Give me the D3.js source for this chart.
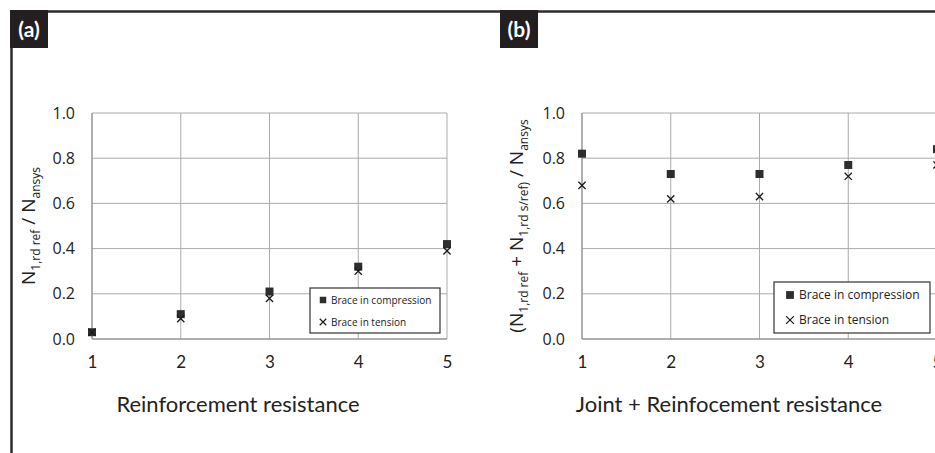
<!DOCTYPE html>
<html><head><meta charset="utf-8">
<script src="https://cdn.jsdelivr.net/npm/d3@7"></script>
<style>
html,body{margin:0;padding:0;background:#fff;}
svg{display:block;}
</style></head>
<body>
<svg id="chart" width="935" height="453"></svg>
<script>
// ---- data ----
const xCategories = [1, 2, 3, 4, 5];
const yTicks = [0, 0.2, 0.4, 0.6, 0.8, 1.0];
const seriesNames = ["Brace in compression", "Brace in tension"];
const panelLabels = ["(a)", "(b)"];
const xTitles = ["Reinforcement resistance", "Joint + Reinfocement resistance"];
const aCompression = [0.03, 0.11, 0.21, 0.32, 0.42];
const aTension = [0.03, 0.09, 0.18, 0.30, 0.39];
const bCompression = [0.82, 0.73, 0.73, 0.77, 0.84];
const bTension = [0.68, 0.62, 0.63, 0.72, 0.77];

const svg = d3.select("#chart");
const dark = "#231f20";

// frame lines
svg.append("line").attr("x1", 10).attr("x2", 935).attr("y1", 11.5).attr("y2", 11.5)
  .attr("stroke", "#2b2b2b").attr("stroke-width", 2.5);
svg.append("line").attr("x1", 11.5).attr("x2", 11.5).attr("y1", 10).attr("y2", 453)
  .attr("stroke", "#2b2b2b").attr("stroke-width", 2.5);

const panels = [
  {label: panelLabels[0], lx: 10, x0: 92, comp: aCompression, ten: aTension, title: xTitles[0], tx: 238,
   ytitle: [["N", 0], ["1,rd ref", 1], [" / N", 0], ["ansys", 1]], ytx: 35,
   legend: {x: 310, y: 288, w: 130, h: 45, fs: 10, r1: 300, r2: 322, mx: 323, tx: 331}},
  {label: panelLabels[1], lx: 500, x0: 582, comp: bCompression, ten: bTension, title: xTitles[1], tx: 729,
   ytitle: [["(N", 0], ["1,rd ref", 1], [" + N", 0], ["1,rd s/ref)", 1], [" / N", 0], ["ansys", 1]], ytx: 523,
   legend: {x: 774, y: 282, w: 156, h: 51, fs: 12, r1: 295, r2: 320, mx: 790, tx: 799}}
];

panels.forEach(p => {
  const x = d3.scaleLinear().domain([1, 5]).range([p.x0, p.x0 + 355]);
  const y = d3.scaleLinear().domain([0, 1]).range([339, 113]);
  const g = svg.append("g");

  // label box
  g.append("rect").attr("x", p.lx).attr("y", 10).attr("width", 38).attr("height", 38).attr("fill", dark);
  g.append("text").attr("x", p.lx + 19).attr("y", 37).attr("text-anchor", "middle")
    .attr("fill", "#fff").attr("font-family", "Lato, 'Open Sans', sans-serif").attr("font-weight", "bold")
    .attr("font-size", 21).text(p.label);

  // grid
  g.append("g").selectAll("line").data(yTicks).join("line")
    .attr("x1", x(1)).attr("x2", x(5)).attr("y1", d => y(d)).attr("y2", d => y(d))
    .attr("stroke", "#ababab").attr("stroke-width", 1);
  g.append("g").selectAll("line").data(xCategories).join("line")
    .attr("x1", d => x(d)).attr("x2", d => x(d)).attr("y1", y(0)).attr("y2", y(1))
    .attr("stroke", "#ababab").attr("stroke-width", 1);
  // axis lines
  g.append("line").attr("x1", x(1)).attr("x2", x(1)).attr("y1", y(0)).attr("y2", y(1)).attr("stroke", "#8a8a8a");
  g.append("line").attr("x1", x(1)).attr("x2", x(5)).attr("y1", y(0)).attr("y2", y(0)).attr("stroke", "#8a8a8a");

  // y axis
  const ya = g.append("g").attr("transform", `translate(${x(1)},0)`)
    .call(d3.axisLeft(y).tickValues(yTicks).tickFormat(d3.format(".1f")).tickSize(0).tickPadding(17));
  ya.select(".domain").remove();
  ya.selectAll("text").attr("font-family", "'Open Sans', 'Noto Sans', sans-serif").attr("font-size", 16).attr("fill", "#222");

  // x axis
  const xa = g.append("g").attr("transform", `translate(0,${y(0)})`)
    .call(d3.axisBottom(x).tickValues(xCategories).tickFormat(d3.format("d")).tickSize(0).tickPadding(17));
  xa.select(".domain").remove();
  xa.selectAll("text").attr("font-family", "Lato, sans-serif").attr("font-size", 17).attr("fill", "#222");

  // x title
  g.append("text").attr("x", p.tx).attr("y", 412).attr("text-anchor", "middle")
    .attr("font-family", "Lato, sans-serif").attr("font-size", 22).attr("fill", "#222").text(p.title);

  // y title
  const yt = g.append("text").attr("transform", `translate(${p.ytx},226) rotate(-90)`)
    .attr("text-anchor", "middle").attr("font-family", "'Open Sans', 'Noto Sans', sans-serif").attr("fill", "#222");
  p.ytitle.forEach(([t, sub], i) => {
    const ts = yt.append("tspan").text(t).attr("font-size", sub ? 12 : 19);
    const prevSub = i > 0 ? p.ytitle[i - 1][1] : 0;
    if (sub && !prevSub) ts.attr("dy", 5);
    else if (!sub && prevSub) ts.attr("dy", -5);
  });

  // markers
  const sq = 8, xs = 3.6;
  g.append("g").selectAll("rect").data(xCategories).join("rect")
    .attr("x", (d, i) => x(d) - sq / 2).attr("y", (d, i) => y(p.comp[i]) - sq / 2)
    .attr("width", sq).attr("height", sq).attr("fill", "#2d2d2d");
  g.append("g").selectAll("path").data(xCategories).join("path")
    .attr("d", (d, i) => {
      const cx = x(d), cy = y(p.ten[i]);
      return `M${cx - xs},${cy - xs}L${cx + xs},${cy + xs}M${cx - xs},${cy + xs}L${cx + xs},${cy - xs}`;
    })
    .attr("stroke", "#1a1a1a").attr("stroke-width", 1.3).attr("fill", "none");

  // legend
  const L = p.legend;
  g.append("rect").attr("x", L.x).attr("y", L.y).attr("width", L.w).attr("height", L.h)
    .attr("fill", "#fff").attr("stroke", "#333").attr("stroke-width", 1.2);
  const ms = L.fs * 0.65;
  g.append("rect").attr("x", L.mx - ms / 2).attr("y", L.r1 - ms / 2).attr("width", ms).attr("height", ms).attr("fill", "#2d2d2d");
  const lx = ms / 2;
  g.append("path").attr("d", `M${L.mx - lx},${L.r2 - lx}L${L.mx + lx},${L.r2 + lx}M${L.mx - lx},${L.r2 + lx}L${L.mx + lx},${L.r2 - lx}`)
    .attr("stroke", "#1a1a1a").attr("stroke-width", 1.2);
  [seriesNames[0], seriesNames[1]].forEach((n, i) => {
    g.append("text").attr("x", L.tx).attr("y", i ? L.r2 : L.r1).attr("dy", "0.35em")
      .attr("font-family", "'Open Sans', 'Noto Sans', sans-serif").attr("font-size", L.fs).attr("fill", "#222").text(n);
  });
});
</script>
</body></html>
